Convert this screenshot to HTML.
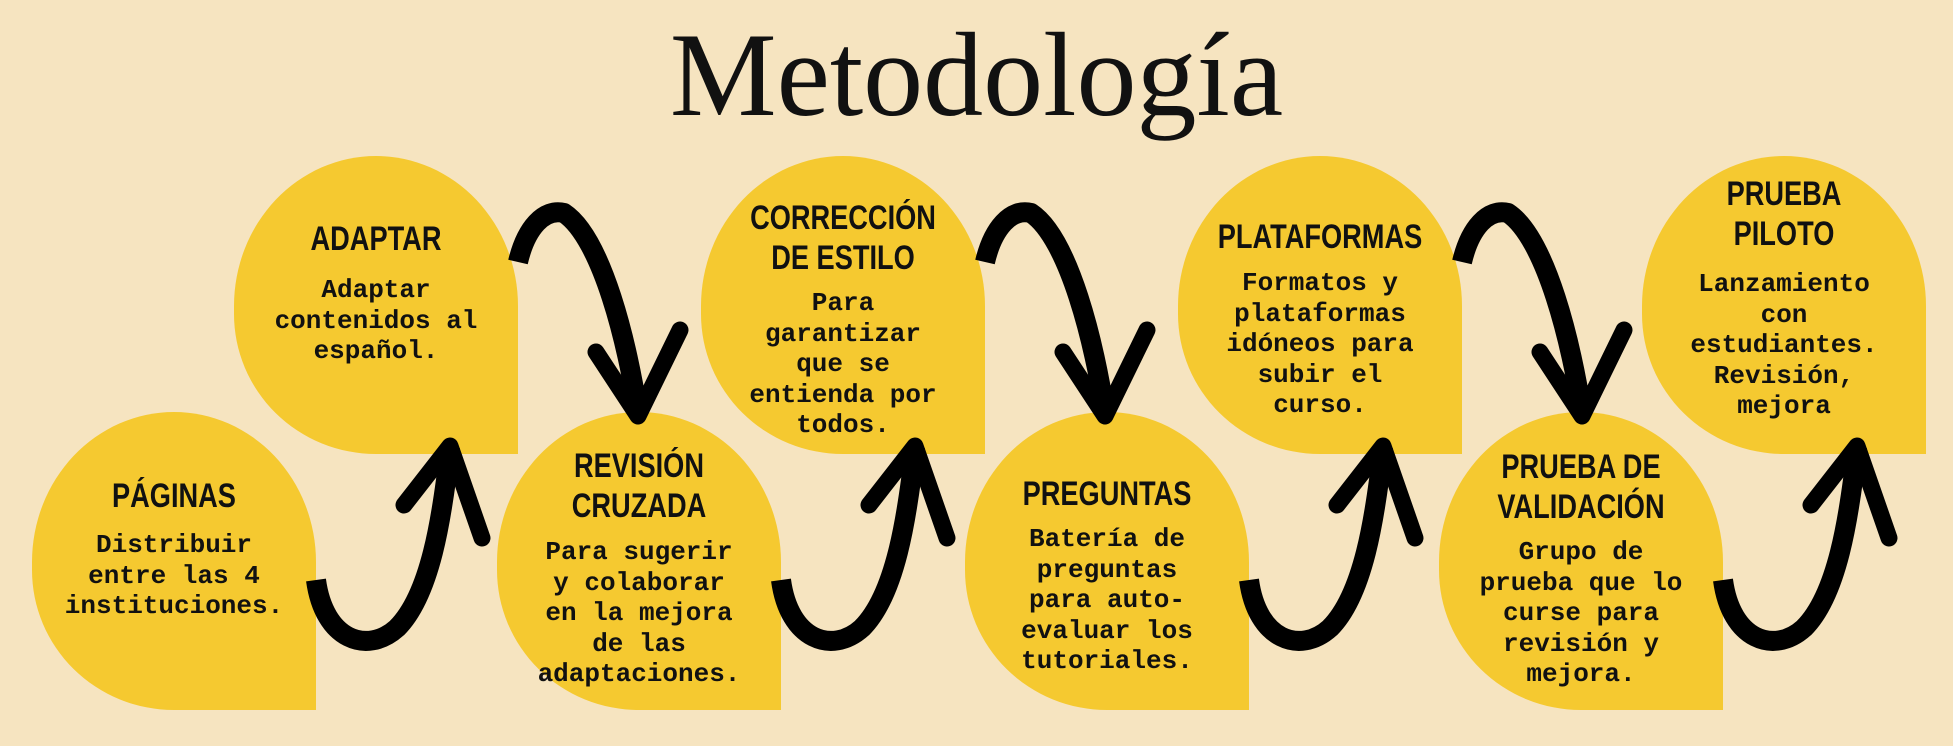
<!DOCTYPE html>
<html><head><meta charset="utf-8"><style>
html,body{margin:0;padding:0}
body{width:1953px;height:746px;background:#f6e4c0;position:relative;overflow:hidden}
.title{position:absolute;left:0;width:1953px;top:0;text-align:center;font-family:"Liberation Serif",serif;font-size:120px;line-height:150px;color:#111;letter-spacing:0px}
.s{position:absolute;width:284px;height:298px;background:#f5c930;border-radius:142px 142px 0 142px / 150px 150px 0 140px}
.h,.b{position:absolute;left:0;width:100%;text-align:center;color:#111}
.h{font-family:"Liberation Sans Narrow","Liberation Sans",sans-serif;font-weight:bold;font-size:34px;line-height:40px;transform:scaleX(0.8);transform-origin:center}
.b{font-family:"Liberation Mono",monospace;font-weight:bold;font-size:26px;line-height:30.5px}
svg{position:absolute;left:0;top:0}
</style></head><body>
<div class="title">Metodología</div>

<div class="s" style="left:32px;top:412px"><div class="h" style="top:64px">PÁGINAS</div><div class="b" style="top:118px">Distribuir<br>entre las 4<br>instituciones.</div></div>
<div class="s" style="left:234px;top:156px"><div class="h" style="top:63px">ADAPTAR</div><div class="b" style="top:119px">Adaptar<br>contenidos al<br>español.</div></div>
<div class="s" style="left:497px;top:412px"><div class="h" style="top:34px">REVISIÓN<br>CRUZADA</div><div class="b" style="top:125px">Para sugerir<br>y colaborar<br>en la mejora<br>de las<br>adaptaciones.</div></div>
<div class="s" style="left:701px;top:156px"><div class="h" style="top:42px">CORRECCIÓN<br>DE ESTILO</div><div class="b" style="top:132px">Para<br>garantizar<br>que se<br>entienda por<br>todos.</div></div>
<div class="s" style="left:965px;top:412px"><div class="h" style="top:62px">PREGUNTAS</div><div class="b" style="top:112px">Batería de<br>preguntas<br>para auto-<br>evaluar los<br>tutoriales.</div></div>
<div class="s" style="left:1178px;top:156px"><div class="h" style="top:61px">PLATAFORMAS</div><div class="b" style="top:112px">Formatos y<br>plataformas<br>idóneos para<br>subir el<br>curso.</div></div>
<div class="s" style="left:1439px;top:412px"><div class="h" style="top:35px">PRUEBA DE<br>VALIDACIÓN</div><div class="b" style="top:125px">Grupo de<br>prueba que lo<br>curse para<br>revisión y<br>mejora.</div></div>
<div class="s" style="left:1642px;top:156px"><div class="h" style="top:18px">PRUEBA<br>PILOTO</div><div class="b" style="top:113px">Lanzamiento<br>con<br>estudiantes.<br>Revisión,<br>mejora</div></div>

<svg width="1953" height="746" viewBox="0 0 1953 746">
<defs>
<g id="up" fill="none" stroke="#000" stroke-linejoin="round">
<path d="M284,580 C292,640 335,655 365,628 C398,595 410,520 418,447" stroke-width="20" stroke-linecap="butt"/>
<path d="M372,505 L418,446 L450,538" stroke-width="17" stroke-linecap="round"/>
</g>
<g id="dn" fill="none" stroke="#000" stroke-linejoin="round">
<path d="M284,262 C292,228 310,208 330,213 C368,238 394,345 404,414" stroke-width="20" stroke-linecap="butt"/>
<path d="M362,352 L404,416 L446,330" stroke-width="17" stroke-linecap="round"/>
</g>
</defs>
<use href="#up" x="32"/>
<use href="#up" x="497"/>
<use href="#up" x="965"/>
<use href="#up" x="1439"/>
<use href="#dn" x="234"/>
<use href="#dn" x="701"/>
<use href="#dn" x="1178"/>
</svg>
</body></html>
